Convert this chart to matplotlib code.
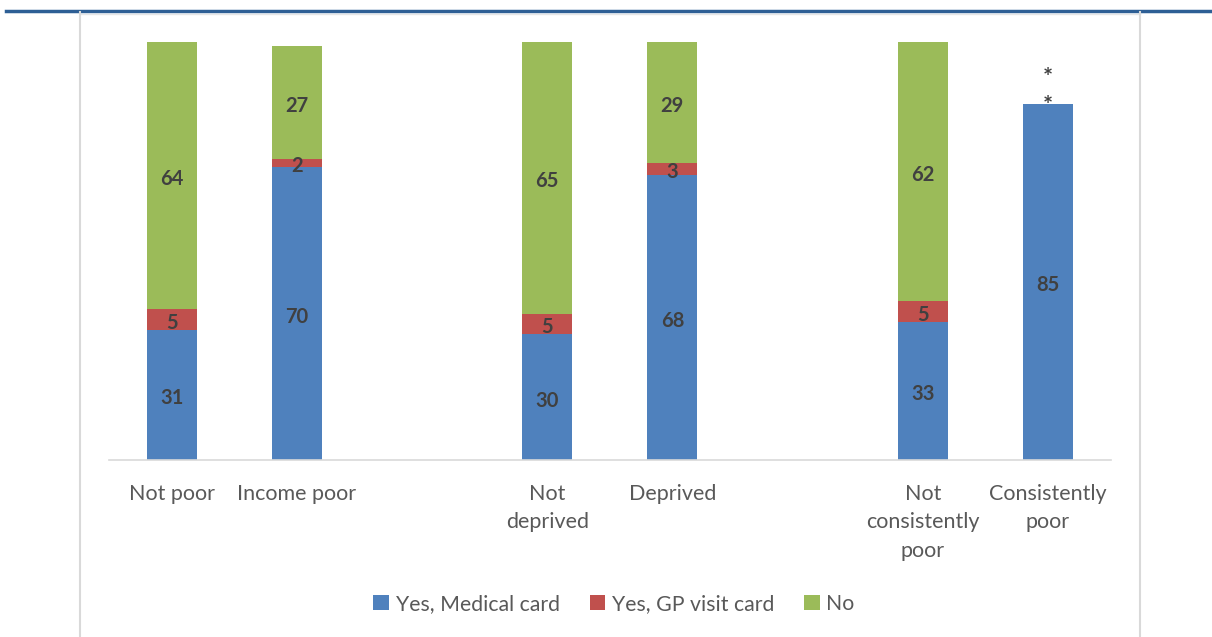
import numpy as np
import matplotlib
matplotlib.use("Agg")
import matplotlib.pyplot as plt
from matplotlib.lines import Line2D

categories = ["Not poor", "Income poor", "Not\ndeprived", "Deprived",
              "Not\nconsistently\npoor", "Consistently\npoor"]
medical_card = [31, 70, 30, 68, 33, 85]
gp_card = [5, 2, 5, 3, 5, np.nan]
no_card = [64, 27, 65, 29, 62, np.nan]
series_names = ["Yes, Medical card", "Yes, GP visit card", "No"]
colors = ["#4F81BD", "#C0504D", "#9BBB59"]
positions = [0, 1, 3, 4, 6, 7]

plt.rcParams['font.family'] = ['Lato', 'DejaVu Sans']

W, H = 1212, 637
fig = plt.figure(figsize=(W / 100, H / 100), dpi=100)
ax = fig.add_axes([109 / W, (H - 460) / H, (1110.5 - 109) / W, (460 - 41.5) / H])

bottom = np.zeros(len(categories))
for name, vals, col in zip(series_names, [medical_card, gp_card, no_card], colors):
    v = np.nan_to_num(np.array(vals, dtype=float))
    ax.bar(positions, v, 0.4, bottom=bottom, color=col, label=name)
    for x, b, val, raw in zip(positions, bottom, v, vals):
        if not np.isnan(raw):
            ax.text(x, b + val / 2 - 0.8, f"{raw:g}", ha="center", va="center",
                    fontsize=14.5, fontweight="bold", color="#404040")
    bottom = bottom + v

# suppressed values for consistently poor
for dy in [-0.5, 6.2]:
    ax.text(positions[5], medical_card[5] + dy, "*", ha="center", va="center",
            fontsize=17, fontweight="bold", color="#404040", clip_on=False)

ax.set_xlim(-0.5, 7.5)
ax.set_ylim(0, 100)
ax.set_xticks(positions)
ax.set_xticklabels(categories, fontsize=15.5, color="#595959", linespacing=1.55)
ax.tick_params(axis="x", length=0, pad=17)
ax.set_yticks([])
for s in ["top", "left", "right"]:
    ax.spines[s].set_visible(False)
ax.spines["bottom"].set_color("#D9D9D9")
ax.spines["bottom"].set_linewidth(1.2)

ax.legend(loc="center", bbox_to_anchor=(614 / W, 1 - 604 / H),
          bbox_transform=fig.transFigure, ncol=3, frameon=False,
          fontsize=15.3, labelcolor="#595959", handlelength=0.75,
          handleheight=0.75, columnspacing=1.4, handletextpad=0.3)

# page frame lines
fig.add_artist(Line2D([6 / W, 1], [1 - 11 / H, 1 - 11 / H], color="#2E5F95", lw=2.5))
fig.add_artist(Line2D([80 / W, 1140 / W], [1 - 13.5 / H, 1 - 13.5 / H], color="#E6E6E6", lw=1))
for xv in [80, 1140]:
    fig.add_artist(Line2D([xv / W, xv / W], [0, 1 - 12 / H], color="#D9D9D9", lw=1.5))

fig.savefig("out.png", dpi=100)
